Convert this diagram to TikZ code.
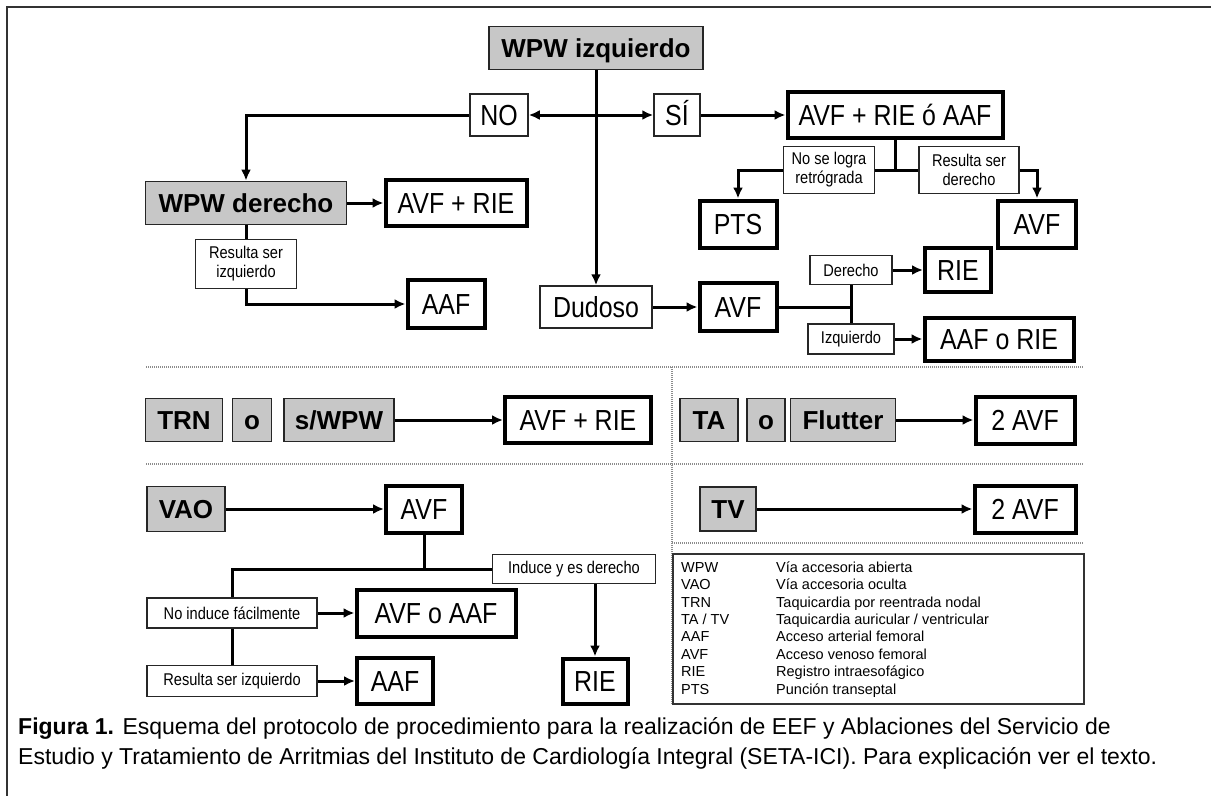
\documentclass[tikz,border=0pt]{standalone}
\usepackage{fontspec}
\setmainfont{Liberation Sans}
\newfontfamily\narrowsans{Liberation Sans}[FakeStretch=0.86]
\usetikzlibrary{arrows.meta}

\tikzset{
  >={Latex[length=11pt,width=10pt]},
  graybox/.style={draw=black!85, line width=1.8, fill=black!22, inner sep=0,
    font=\bfseries\fontsize{26}{28}\selectfont, text height=19, text depth=0,
    minimum height=43},
  thickbox/.style={draw, line width=4, fill=white, inner sep=0,
    font=\narrowsans\fontsize{29}{31}\selectfont, text height=21, text depth=0,
    minimum height=46},
  plainbox/.style={draw=black!85, line width=1.5, fill=white, inner sep=0,
    font=\narrowsans\fontsize{29}{31}\selectfont, text height=21, text depth=0,
    minimum height=42},
  smallbox/.style={draw=black!85, line width=1.3, fill=white, inner sep=0,
    align=center, font=\narrowsans\fontsize{17}{19}\selectfont},
  link/.style={line width=3, ->},
  wire/.style={line width=3},
  sepline/.style={black!45, line width=1.8, dash pattern=on 1pt off 1pt},
}

\begin{document}
\begin{tikzpicture}[x=1pt,y=-1pt]
\useasboundingbox (0,0) rectangle (1211,796);
% frame
\draw[line width=2, black!80] (6,7) -- (1211,7);
\draw[line width=2, black!80] (7,7) -- (7,796);

% WPW izquierdo
\node[graybox, minimum width=214] (wpwizq) at (596,48) {WPW izquierdo};
\node[plainbox, minimum width=58] (no) at (499,115) {NO};
\node[plainbox, minimum width=46] (si) at (677,115) {SÍ};
\node[thickbox, minimum width=215] (avfrieaaf) at (895,115) {AVF + RIE ó AAF};
\node[smallbox, minimum width=91, minimum height=47] (nologra) at (829,170) {No se logra\\retrógrada};
\node[smallbox, minimum width=100, minimum height=47] (resder) at (969,170) {Resulta ser\\derecho};
\node[thickbox, minimum width=77, minimum height=47] (pts) at (738,224) {PTS};
\node[thickbox, minimum width=78, minimum height=47] (avfder) at (1037,224) {AVF};

\node[graybox, minimum width=201] (wpwder) at (246,203) {WPW derecho};
\node[thickbox, minimum width=141] (avfrie) at (456,203) {AVF + RIE};
\node[smallbox, minimum width=101, minimum height=49] (resizq) at (246,264) {Resulta ser\\izquierdo};
\node[thickbox, minimum width=77, minimum height=48] (aafizq) at (446,304) {AAF};

\node[plainbox, minimum width=112] (dudoso) at (596,307) {Dudoso};
\node[thickbox, minimum width=77, minimum height=48] (avfdud) at (738,307) {AVF};
\node[smallbox, minimum width=82, minimum height=29] (derecho) at (851,270) {Derecho};
\node[thickbox, minimum width=66, minimum height=44] (riedud) at (958,270) {RIE};
\node[smallbox, minimum width=86, minimum height=30] (izq) at (851,339) {Izquierdo};
\node[thickbox, minimum width=149, minimum height=43] (aafrie) at (999,339) {AAF o RIE};

\draw[link] (wpwizq.south) -- (dudoso.north);
\draw[link, <->] (no.east) -- (si.west);
\draw[link] (si.east) -- (avfrieaaf.west);
\draw[link] (no.west) -| (wpwder.north);
\draw[link] (wpwder.east) -- (avfrie.west);
\draw[wire] (wpwder.south) -- (resizq.north);
\draw[link] (resizq.south) |- (aafizq.west);
\draw[wire] (avfrieaaf.south) -- (avfrieaaf.south |- nologra.east);
\draw[link] (nologra.west) -| (pts.north);
\draw[wire] (nologra.east) -- (resder.west);
\draw[link] (resder.east) -| (avfder.north);
\draw[link] (dudoso.east) -- (avfdud.west);
\draw[wire] (avfdud.east) -- (avfdud.east -| derecho.south);
\draw[wire] (derecho.south) -- (izq.north);
\draw[link] (derecho.east) -- (riedud.west);
\draw[link] (izq.east) -- (aafrie.west);

% separators
\draw[sepline] (146,367) -- (1084,367);
\draw[sepline] (146,464) -- (1084,464);
\draw[sepline] (672,543) -- (1084,543);
\draw[sepline] (672,367) -- (672,705);

% TRN / TA
\node[graybox, minimum width=77] (trn) at (184,420) {TRN};
\node[graybox, minimum width=39] (otrn) at (252,420) {o};
\node[graybox, minimum width=110] (swpw) at (339,420) {s/WPW};
\node[thickbox, minimum width=146] (avfrietrn) at (578,420) {AVF + RIE};
\node[graybox, minimum width=58] (ta) at (709,420) {TA};
\node[graybox, minimum width=38] (ota) at (766,420) {o};
\node[graybox, minimum width=105] (flutter) at (843,420) {Flutter};
\node[thickbox, minimum width=99, minimum height=47] (avfta) at (1025,420) {2 AVF};
\draw[link] (swpw.east) -- (avfrietrn.west);
\draw[link] (flutter.east) -- (avfta.west);

% VAO / TV
\node[graybox, minimum width=78, minimum height=45] (vao) at (186,509) {VAO};
\node[thickbox, minimum width=76, minimum height=47] (avfvao) at (424,509) {AVF};
\node[smallbox, minimum width=163, minimum height=29] (induce) at (574,569) {Induce y es derecho};
\node[thickbox, minimum width=65, minimum height=45] (rievao) at (595,681) {RIE};
\node[smallbox, minimum width=170, minimum height=30] (noinduce) at (232,613) {No induce fácilmente};
\node[thickbox, minimum width=159, minimum height=47] (avfoaaf) at (436,613) {AVF o AAF};
\node[smallbox, minimum width=170, minimum height=31] (resizqvao) at (232,681) {Resulta ser izquierdo};
\node[thickbox, minimum width=76, minimum height=46] (aafvao) at (395,681) {AAF};
\node[graybox, minimum width=56, minimum height=44] (tv) at (728,509) {TV};
\node[thickbox, minimum width=101, minimum height=47] (avftv) at (1025,509) {2 AVF};
\draw[link] (vao.east) -- (avfvao.west);
\draw[wire] (avfvao.south) -- (avfvao.south |- induce.west);
\draw[wire] (induce.west) -| (noinduce.north);
\draw[link] (induce.south -| rievao.north) -- (rievao.north);
\draw[link] (noinduce.east) -- (avfoaaf.west);
\draw[wire] (noinduce.south) -- (resizqvao.north);
\draw[link] (resizqvao.east) -- (aafvao.west);
\draw[link] (tv.east) -- (avftv.west);

% legend
\node[draw=black!80, line width=1.5, minimum width=411, minimum height=150, anchor=north west] (legend) at (672,553) {};
\node[anchor=north west, inner sep=0, font=\fontsize{14.5}{17.4}\selectfont] (legtext) at (681,560) {%
  \begin{tabular}{@{}p{95pt}@{}l@{}}
  WPW & Vía accesoria abierta\\
  VAO & Vía accesoria oculta\\
  TRN & Taquicardia por reentrada nodal\\
  TA / TV & Taquicardia auricular / ventricular\\
  AAF & Acceso arterial femoral\\
  AVF & Acceso venoso femoral\\
  RIE & Registro intraesofágico\\
  PTS & Punción transeptal
  \end{tabular}};

% caption
\node[anchor=north west, inner sep=0, align=left, font=\fontsize{23}{30}\selectfont] (caption) at (18,717)
  {\textbf{Figura 1.} Esquema del protocolo de procedimiento para la realización de EEF y Ablaciones del Servicio de\\
   Estudio y Tratamiento de Arritmias del Instituto de Cardiología Integral (SETA-ICI). Para explicación ver el texto.};
\end{tikzpicture}
\end{document}
